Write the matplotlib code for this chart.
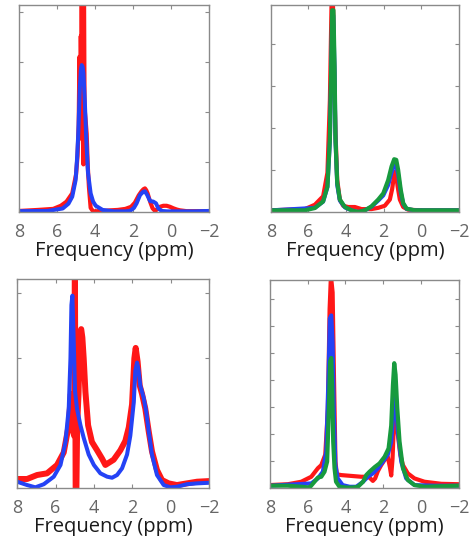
import matplotlib
matplotlib.use("Agg")
import matplotlib.pyplot as plt

# ---- spectra (ppm, relative intensity 0..1 of axis height) ----
# top-left panel
p1_red_ppm = [8, 7, 6.2, 5.8, 5.5, 5.2, 5.0, 4.92, 4.86, 4.82, 4.78, 4.75, 4.72, 4.70, 4.67, 4.64,
              4.61, 4.58, 4.55, 4.5, 4.44, 4.38, 4.32, 4.23, 4.1, 3.6, 3.2, 2.8, 2.4, 2.1, 1.9, 1.7,
              1.55, 1.45, 1.37, 1.3, 1.23, 1.15, 1.08, 0.97, 0.84, 0.7, 0.58, 0.4, 0.23, 0.05,
              -0.12, -0.3, -0.47, -0.82, -1.3, -2]
p1_red_int = [0.005, 0.01, 0.015, 0.03, 0.05, 0.09, 0.18, 0.27, 0.42, 0.75, 0.5, 0.85, 0.6, 1.1, 0.35, 1.1,
              0.23, 1.1, 0.5, 0.45, 0.38, 0.22, 0.12, 0.02, 0.003, 0.005, 0.008, 0.01, 0.015, 0.025, 0.045, 0.08,
              0.1, 0.11, 0.114, 0.105, 0.09, 0.065, 0.045, 0.018, 0.005, 0.015, 0.025, 0.03, 0.03, 0.025,
              0.018, 0.012, 0.008, 0.004, 0.004, 0.004]
p1_blue_ppm = [8, 6.5, 5.7, 5.4, 5.2, 5.02, 4.95, 4.88, 4.8, 4.74, 4.7, 4.65, 4.61, 4.54, 4.46, 4.37,
               4.23, 4.1, 3.96, 3.6, 3.0, 2.4, 2.16, 1.95, 1.81, 1.63, 1.46, 1.37, 1.25, 1.1, 0.93,
               0.79, 0.67, 0.49, 0.2, -0.5, -1.2, -2]
p1_blue_int = [0.004, 0.005, 0.017, 0.04, 0.074, 0.155, 0.25, 0.38, 0.6, 0.69, 0.71, 0.70, 0.67, 0.54, 0.35, 0.19,
               0.09, 0.05, 0.03, 0.01, 0.003, 0.003, 0.005, 0.02, 0.042, 0.082, 0.098, 0.1, 0.082, 0.053, 0.05,
               0.042, 0.018, 0.005, 0.003, 0.003, 0.003, 0.005]

# top-right panel
p2_red_ppm = [8, 6.19, 5.66, 5.22, 4.99, 4.86, 4.77, 4.72, 4.68, 4.62, 4.56, 4.47, 4.33, 4.15, 3.89,
              3.53, 3.18, 2.65, 2.29, 1.94, 1.67, 1.55, 1.44, 1.39, 1.33, 1.26, 1.14, 0.96, 0.7, 0, -2]
p2_red_int = [0.008, 0.014, 0.035, 0.076, 0.19, 0.54, 1.02, 1.05, 0.96, 0.6, 0.38, 0.155, 0.06, 0.03, 0.024,
              0.024, 0.014, 0.014, 0.02, 0.03, 0.06, 0.11, 0.18, 0.196, 0.18, 0.125, 0.06, 0.024, 0.011, 0.008, 0.008]
p2_blue_ppm = [8, 5.66, 5.22, 4.99, 4.86, 4.79, 4.74, 4.68, 4.61, 4.56, 4.47, 4.33, 4.06, 3.71, 3.35,
               3.0, 2.65, 2.29, 2.02, 1.76, 1.58, 1.44, 1.33, 1.23, 1.09, 0.96, 0.78, 0.34, -2]
p2_blue_int = [0.008, 0.02, 0.05, 0.12, 0.34, 0.68, 0.95, 0.95, 0.68, 0.34, 0.13, 0.055, 0.022, 0.008, 0.0,
               0.008, 0.025, 0.055, 0.08, 0.13, 0.19, 0.23, 0.225, 0.18, 0.095, 0.04, 0.015, 0.008, 0.008]
p2_green_ppm = [8, 6.2, 5.66, 5.22, 4.99, 4.86, 4.79, 4.74, 4.67, 4.61, 4.56, 4.47, 4.33, 4.06, 3.71,
                3.35, 3.0, 2.65, 2.29, 2.02, 1.76, 1.58, 1.44, 1.33, 1.23, 1.09, 0.96, 0.78, 0.34, -2]
p2_green_int = [0.008, 0.008, 0.019, 0.051, 0.123, 0.35, 0.70, 0.975, 0.975, 0.70, 0.35, 0.14, 0.06, 0.024, 0.008,
                0.0, 0.008, 0.027, 0.06, 0.09, 0.154, 0.22, 0.255, 0.252, 0.204, 0.107, 0.043, 0.016, 0.008, 0.008]

# bottom-left panel
p3_red_ppm = [8, 7.48, 6.96, 6.44, 5.92, 5.57, 5.31, 5.2, 5.1, 5.03, 4.99, 4.95, 4.91, 4.87, 4.8,
              4.72, 4.66, 4.6, 4.53, 4.44, 4.3, 4.1, 3.83, 3.57, 3.4, 3.23, 2.97, 2.62, 2.36, 2.18,
              2.01, 1.89, 1.82, 1.72, 1.61, 1.49, 1.32, 1.14, 0.97, 0.71, 0.45, 0.1, -0.33, -0.85,
              -1.38, -2]
p3_red_int = [0.043, 0.043, 0.062, 0.07, 0.11, 0.17, 0.30, 0.45, 0.28, 0.25, 1.1, 0.0, 0.0, 0.3, 0.45,
              0.74, 0.76, 0.72, 0.62, 0.46, 0.30, 0.22, 0.18, 0.14, 0.11, 0.12, 0.135, 0.18, 0.225, 0.29,
              0.40, 0.62, 0.67, 0.605, 0.49, 0.45, 0.38, 0.27, 0.175, 0.086, 0.038, 0.022, 0.014, 0.022,
              0.03, 0.033]
p3_blue_ppm = [8, 7.48, 7.05, 6.61, 6.09, 5.74, 5.48, 5.31, 5.22, 5.17, 5.12, 5.05, 4.98, 4.88, 4.7,
               4.53, 4.27, 4.0, 3.66, 3.31, 3.05, 2.79, 2.53, 2.27, 2.1, 1.92, 1.84, 1.75, 1.68, 1.58,
               1.4, 1.28, 1.14, 0.97, 0.71, 0.36, 0.01, -0.33, -0.85, -1.38, -2]
p3_blue_int = [0.03, 0.014, 0.003, 0.018, 0.054, 0.11, 0.22, 0.38, 0.62, 0.875, 0.92, 0.70, 0.46, 0.38, 0.30,
               0.24, 0.16, 0.11, 0.07, 0.054, 0.049, 0.062, 0.094, 0.16, 0.25, 0.41, 0.56, 0.60, 0.57, 0.49,
               0.43, 0.37, 0.27, 0.16, 0.062, 0.014, 0.003, 0.006, 0.018, 0.022, 0.025]

# bottom-right panel
p4_red_ppm = [8, 7.05, 6.34, 5.81, 5.46, 5.28, 5.07, 4.93, 4.84, 4.77, 4.68, 4.61, 4.53, 4.46, 4.23,
              3.7, 3.17, 2.9, 2.73, 2.55, 2.43, 2.29, 2.11, 1.93, 1.76, 1.65, 1.58, 1.51, 1.44, 1.38,
              1.31, 1.22, 1.1, 0.96, 0.7, 0.35, -0.18, -1.07, -2]
p4_red_int = [0.014, 0.018, 0.03, 0.054, 0.095, 0.11, 0.16, 0.38, 0.86, 1.02, 0.94, 0.54, 0.127, 0.066, 0.062,
              0.058, 0.054, 0.054, 0.05, 0.034, 0.046, 0.08, 0.11, 0.135, 0.15, 0.10, 0.06, 0.14, 0.30, 0.40,
              0.33, 0.25, 0.16, 0.11, 0.07, 0.046, 0.03, 0.02, 0.018]
p4_blue_ppm = [8, 5.81, 5.46, 5.2, 5.02, 4.9, 4.83, 4.75, 4.68, 4.61, 4.53, 4.41, 4.15, 3.78, 3.43,
               3.07, 2.81, 2.55, 2.29, 2.02, 1.76, 1.58, 1.48, 1.41, 1.34, 1.23, 1.05, 0.79, 0.35,
               -0.72, -2]
p4_blue_int = [0.011, 0.022, 0.046, 0.078, 0.175, 0.54, 0.815, 0.83, 0.70, 0.35, 0.11, 0.046, 0.014, 0.006, 0.006,
               0.03, 0.054, 0.07, 0.094, 0.126, 0.16, 0.22, 0.34, 0.48, 0.42, 0.27, 0.126, 0.046, 0.014,
               0.011, 0.011]
p4_green_ppm = [8, 7.05, 6.34, 5.9, 5.64, 5.46, 5.28, 5.11, 4.97, 4.88, 4.81, 4.75, 4.7, 4.65, 4.58,
                4.5, 4.32, 3.96, 3.61, 3.34, 3.07, 2.9, 2.73, 2.46, 2.2, 1.93, 1.72, 1.58, 1.49, 1.42,
                1.35, 1.26, 1.14, 0.96, 0.7, 0.35, -0.18, -2]
p4_green_int = [0.011, 0.011, 0.006, 0.002, 0.03, 0.05, 0.054, 0.078, 0.127, 0.38, 0.61, 0.625, 0.465, 0.223, 0.095,
                0.03, 0.006, 0.002, 0.002, 0.006, 0.03, 0.062, 0.078, 0.1, 0.118, 0.15, 0.19, 0.30, 0.494, 0.60,
                0.545, 0.385, 0.224, 0.095, 0.038, 0.014, 0.006, 0.011]

x_ticks = [8, 6, 4, 2, 0, -2]
x_label = "Frequency (ppm)"

RED = "#ff1717"
BLUE = "#2442f5"
GREEN = "#179a3e"
FRAME = "#8a8a8a"

plt.rcParams['font.family'] = ['Open Sans', 'DejaVu Sans']

fig = plt.figure(figsize=(4.76, 5.36), dpi=100)

panels = [
    # rect, y tick step, curves
    ([0.040, 0.6045, 0.399, 0.386], 0.242,
     [(p1_red_ppm, p1_red_int, RED, 3.0), (p1_blue_ppm, p1_blue_int, BLUE, 2.9)]),
    ([0.569, 0.6045, 0.395, 0.386], 0.203,
     [(p2_red_ppm, p2_red_int, RED, 3.0), (p2_blue_ppm, p2_blue_int, BLUE, 2.9),
      (p2_green_ppm, p2_green_int, GREEN, 3.0)]),
    ([0.036, 0.0896, 0.403, 0.390], 0.311,
     [(p3_red_ppm, p3_red_int, RED, 4.3), (p3_blue_ppm, p3_blue_int, BLUE, 2.9)]),
    ([0.567, 0.0896, 0.397, 0.388], 0.1297,
     [(p4_red_ppm, p4_red_int, RED, 3.0), (p4_blue_ppm, p4_blue_int, BLUE, 2.9),
      (p4_green_ppm, p4_green_int, GREEN, 3.0)]),
]

for rect, ystep, curves in panels:
    ax = fig.add_axes(rect)
    for ppm, inten, col, lw in curves:
        ax.plot(ppm, inten, color=col, lw=lw, solid_joinstyle='round')
    ax.set_xlim(8, -2)
    ax.set_ylim(0, 1)
    ax.set_xticks(x_ticks)
    ax.set_yticks([ystep * k for k in range(1, int(1 / ystep) + 1) if ystep * k < 0.99])
    ax.set_yticklabels([])
    ax.tick_params(direction='in', length=3, width=0.8, color=FRAME, labelcolor='#666666',
                   labelsize=13, top=True, right=True, pad=8)
    for s in ax.spines.values():
        s.set_color(FRAME)
        s.set_linewidth(1.0)
    ax.set_xlabel(x_label, fontsize=14.5, color='#1a1a1a', labelpad=0)

fig.savefig("out.png", dpi=100)
